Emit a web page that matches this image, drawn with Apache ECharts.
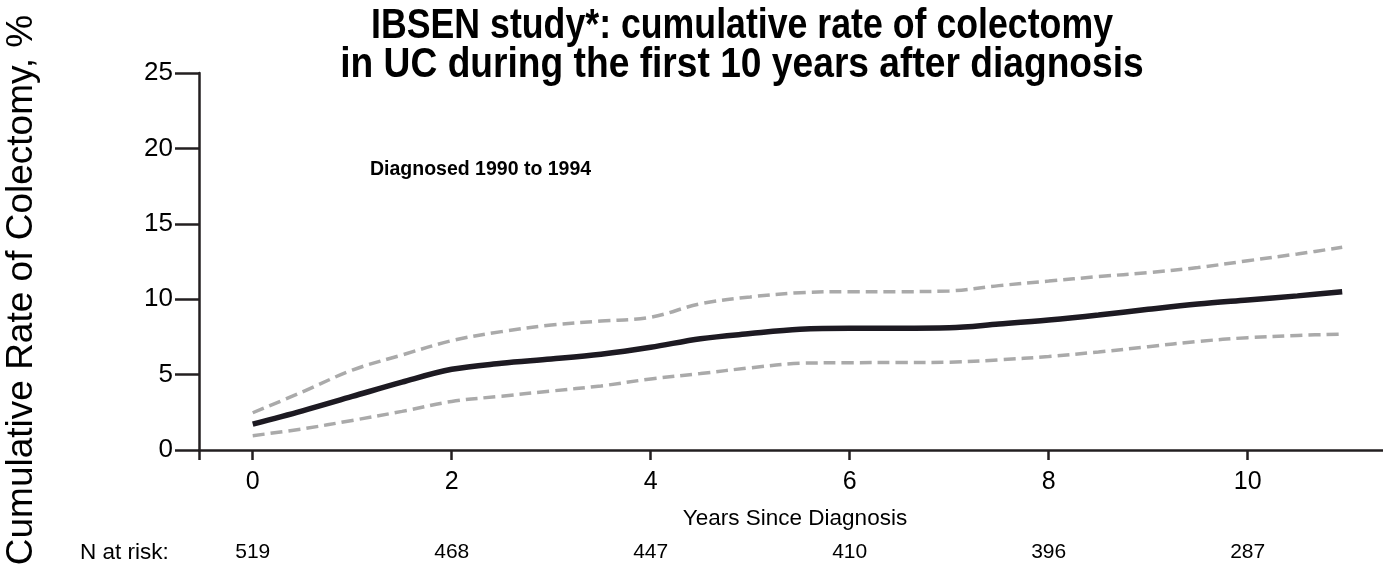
<!DOCTYPE html>
<html>
<head>
<meta charset="utf-8">
<script src="https://cdn.jsdelivr.net/npm/echarts@6/dist/echarts.min.js"></script>
<style>
  html, body { margin: 0; padding: 0; background: #fff; }
  #chart { width: 1383px; height: 572px; }
</style>
</head>
<body>
<div id="chart"></div>
<script>
// Kaplan-Meier style cumulative colectomy rate with 95% confidence band
const years = [0, 0.5, 1, 1.5, 2, 2.5, 3, 3.5, 4, 4.5, 5, 5.5, 6, 6.5, 7, 7.5, 8, 8.5, 9, 9.5, 10, 10.5, 10.95];
const rate  = [1.72, 2.6, 3.55, 4.5, 5.35, 5.75, 6.03, 6.35, 6.81, 7.38, 7.72, 8.0, 8.07, 8.07, 8.1, 8.35, 8.62, 8.95, 9.33, 9.68, 9.95, 10.22, 10.5];
const upperCI = [2.47, 3.85, 5.3, 6.3, 7.25, 7.85, 8.29, 8.55, 8.8, 9.7, 10.15, 10.43, 10.5, 10.5, 10.55, 10.9, 11.2, 11.5, 11.76, 12.1, 12.55, 13.0, 13.44];
const lowerCI = [0.95, 1.4, 1.96, 2.56, 3.22, 3.57, 3.91, 4.25, 4.71, 5.07, 5.45, 5.75, 5.79, 5.8, 5.82, 5.98, 6.2, 6.5, 6.85, 7.2, 7.45, 7.6, 7.69];

const xTicks = [0, 2, 4, 6, 8, 10];
const nAtRisk = [519, 468, 447, 410, 396, 287];

const titleLines = ['IBSEN study*: cumulative rate of colectomy', 'in UC during the first 10 years after diagnosis'];
const yName = 'Cumulative Rate of Colectomy, %';
const xName = 'Years Since Diagnosis';
const cohortLabel = 'Diagnosed 1990 to 1994';
const riskLabel = 'N at risk:';

const pairs = arr => years.map((x, i) => [x, arr[i]]);

const X_MIN = -0.54, X_MAX = 11.36;
const AXIS_COLOR = '#231f20';
const FONT = '"Liberation Sans", Arial, sans-serif';
const TITLE_FONT = 'bold 42px "Liberation Sans", Arial, sans-serif';
const Y_TICK_LEN = 24;

const chart = echarts.init(document.getElementById('chart'), null, { renderer: 'canvas' });

// Condensed heading: bold sans squeezed horizontally
const titleGraphics = titleLines.map((line, i) => ({
  type: 'text',
  x: 742,
  y: 26 + i * 39,
  scaleX: i === 0 ? 0.85 : 0.885,
  style: {
    text: line,
    font: TITLE_FONT,
    fill: '#000',
    align: 'center',
    verticalAlign: 'middle'
  }
}));

chart.setOption({
  animation: false,
  backgroundColor: '#ffffff',
  grid: { left: 199, right: 0, top: 73, bottom: 122, containLabel: false },
  xAxis: [
    {
      type: 'value',
      min: X_MIN,
      max: X_MAX,
      name: xName,
      nameLocation: 'middle',
      nameGap: 57,
      nameTextStyle: { fontFamily: FONT, fontSize: 22.5, color: '#000', padding: [0, 0, 0, 8] },
      axisLine: { show: true, onZero: false, lineStyle: { color: AXIS_COLOR, width: 2.5 } },
      axisTick: { show: true, length: 10, customValues: [X_MIN].concat(xTicks), lineStyle: { color: AXIS_COLOR, width: 2.5 } },
      axisLabel: { customValues: xTicks, fontFamily: FONT, fontSize: 25, color: '#000', margin: 20 },
      splitLine: { show: false }
    },
    {
      type: 'value',
      min: X_MIN,
      max: X_MAX,
      position: 'bottom',
      offset: 92,
      axisLine: { show: false },
      axisTick: { show: false },
      axisLabel: {
        customValues: xTicks,
        fontFamily: FONT,
        fontSize: 21,
        color: '#000',
        margin: 0,
        formatter: v => String(nAtRisk[xTicks.indexOf(v)])
      },
      splitLine: { show: false }
    }
  ],
  yAxis: {
    type: 'value',
    min: 0,
    max: 25,
    interval: 5,
    axisLine: { show: true, onZero: false, lineStyle: { color: AXIS_COLOR, width: 2.5 } },
    axisTick: { show: true, length: Y_TICK_LEN, lineStyle: { color: AXIS_COLOR, width: 2.5 } },
    axisLabel: { fontFamily: FONT, fontSize: 26, color: '#000', margin: Y_TICK_LEN + 2 },
    splitLine: { show: false }
  },
  graphic: titleGraphics.concat([
    {
      type: 'text',
      x: 22,
      y: 290,
      rotation: Math.PI / 2,
      style: {
        text: yName,
        font: '37px "Liberation Sans", Arial, sans-serif',
        fill: '#000',
        align: 'center',
        verticalAlign: 'middle'
      }
    },
    {
      type: 'text',
      x: 370,
      y: 170,
      style: {
        text: cohortLabel,
        font: 'bold 19.5px "Liberation Sans", Arial, sans-serif',
        fill: '#000',
        align: 'left',
        verticalAlign: 'middle'
      }
    },
    {
      type: 'text',
      x: 80,
      y: 553,
      style: {
        text: riskLabel,
        font: '22.5px "Liberation Sans", Arial, sans-serif',
        fill: '#000',
        align: 'left',
        verticalAlign: 'middle'
      }
    }
  ]),
  series: [
    {
      name: 'Upper 95% CI',
      type: 'line',
      data: pairs(upperCI),
      smooth: 0.35,
      showSymbol: false,
      lineStyle: { color: '#aaaaaa', width: 3.5, type: [12, 6] },
      z: 2
    },
    {
      name: 'Lower 95% CI',
      type: 'line',
      data: pairs(lowerCI),
      smooth: 0.35,
      showSymbol: false,
      lineStyle: { color: '#aaaaaa', width: 3.5, type: [12, 6] },
      z: 2
    },
    {
      name: 'Cumulative rate',
      type: 'line',
      data: pairs(rate),
      smooth: 0.35,
      showSymbol: false,
      lineStyle: { color: '#1d1a22', width: 5.5 },
      z: 3
    }
  ]
});
</script>
</body>
</html>
